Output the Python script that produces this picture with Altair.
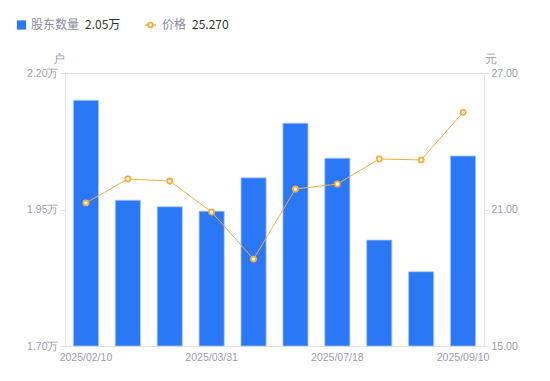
import altair as alt
import pandas as pd

dates = ["2025/02/10", "2025/02/28", "2025/03/20", "2025/03/31", "2025/04/30",
         "2025/06/30", "2025/07/18", "2025/07/31", "2025/08/29", "2025/09/10"]
holders = [2.150, 1.967, 1.955, 1.947, 2.008, 2.108, 2.044, 1.894, 1.836, 2.048]
price = [21.29, 22.34, 22.25, 20.89, 18.82, 21.90, 22.12, 23.22, 23.18, 25.27]
shown_dates = [dates[0], dates[3], dates[6], dates[9]]

BLUE = "#2a78f5"
ORANGE = "#f8ad3a"
LABEL = "#9c9cae"
AXIS = "#e3e3e8"

df = pd.DataFrame({"date": dates, "holders": holders, "price": price})

x = alt.X("date:N", sort=dates, title=None,
          scale=alt.Scale(paddingInner=0.4, paddingOuter=0.2),
          axis=alt.Axis(values=shown_dates, labelAngle=0, ticks=False,
                        labelColor=LABEL, labelFontSize=10.5, labelPadding=6,
                        domainColor=AXIS, labelFont="Liberation Sans"))

bars = alt.Chart(df).mark_bar(color=BLUE, stroke="#a9c8fa", strokeWidth=0.8).encode(
    x=x,
    y=alt.Y("holders:Q", scale=alt.Scale(domain=[1.70, 2.20], zero=False, nice=False),
            axis=alt.Axis(values=[1.70, 1.95, 2.20], grid=False,
                          labelExpr="format(datum.value, '.2f') + '万'",
                          labelColor=LABEL, labelFontSize=10.5, labelFont="Liberation Sans",
                          domainColor=AXIS, tickColor=AXIS, tickSize=5,
                          title="户", titleAngle=0, titleX=-7, titleY=-8,
                          titleColor=LABEL, titleFontWeight="normal", titleFontSize=12,
                          titleAlign="center", titleBaseline="bottom")),
    y2=alt.datum(1.70),
)

line = alt.Chart(df).mark_line(
    color=ORANGE, strokeWidth=1,
    point=alt.OverlayMarkDef(shape="circle", filled=True, fill="white",
                             stroke=ORANGE, strokeWidth=1.8, size=26),
).encode(
    x=x,
    y=alt.Y("price:Q", scale=alt.Scale(domain=[15, 27], zero=False, nice=False),
            axis=alt.Axis(orient="right", values=[15, 21, 27], grid=False, format=".2f",
                          labelColor=LABEL, labelFontSize=10.5, labelFont="Liberation Sans",
                          domainColor=AXIS, tickColor=AXIS, tickSize=5,
                          title="元", titleAngle=0, titleX=6, titleY=-8,
                          titleColor=LABEL, titleFontWeight="normal", titleFontSize=12,
                          titleAlign="center", titleBaseline="bottom")),
)

one = pd.DataFrame({"k": [0]})
LY = -48
leg_sq = alt.Chart(one).mark_square(color=BLUE, size=85, opacity=1).encode(
    x=alt.value(-43.5), y=alt.value(LY))
leg_t1 = alt.Chart(one).mark_text(align="left", baseline="middle", fontSize=12,
                                  color="#8a8a99", font="Noto Sans CJK SC").encode(
    x=alt.value(-34), y=alt.value(LY), text=alt.value("股东数量"))
leg_v1 = alt.Chart(one).mark_text(align="left", baseline="middle", fontSize=12,
                                  color="#333333", font="Noto Sans CJK SC").encode(
    x=alt.value(20), y=alt.value(LY), text=alt.value("2.05万"))
leg_ln = alt.Chart(one).mark_rule(color=ORANGE, strokeWidth=1.5).encode(
    x=alt.value(80), x2=alt.value(91), y=alt.value(LY))
leg_pt = alt.Chart(one).mark_point(shape="circle", filled=True, fill="white",
                                   stroke=ORANGE, strokeWidth=1.8, size=22, opacity=1).encode(
    x=alt.value(85.5), y=alt.value(LY))
leg_t2 = alt.Chart(one).mark_text(align="left", baseline="middle", fontSize=12,
                                  color="#8a8a99", font="Noto Sans CJK SC").encode(
    x=alt.value(97), y=alt.value(LY), text=alt.value("价格"))
leg_v2 = alt.Chart(one).mark_text(align="left", baseline="middle", fontSize=12,
                                  color="#333333", font="Noto Sans CJK SC").encode(
    x=alt.value(127), y=alt.value(LY), text=alt.value("25.270"))

legend = alt.layer(leg_sq, leg_t1, leg_v1, leg_ln, leg_pt, leg_t2, leg_v2)

chart = alt.layer(bars, line, legend).resolve_scale(y="independent").properties(
    width=419, height=273,
    autosize=alt.AutoSizeParams(type="none"),
    padding={"left": 57, "top": 65, "right": 58, "bottom": 27},
).configure_view(stroke=None).configure(background="white")

chart.save("out.html", embed_options={"renderer": "svg", "actions": False})
